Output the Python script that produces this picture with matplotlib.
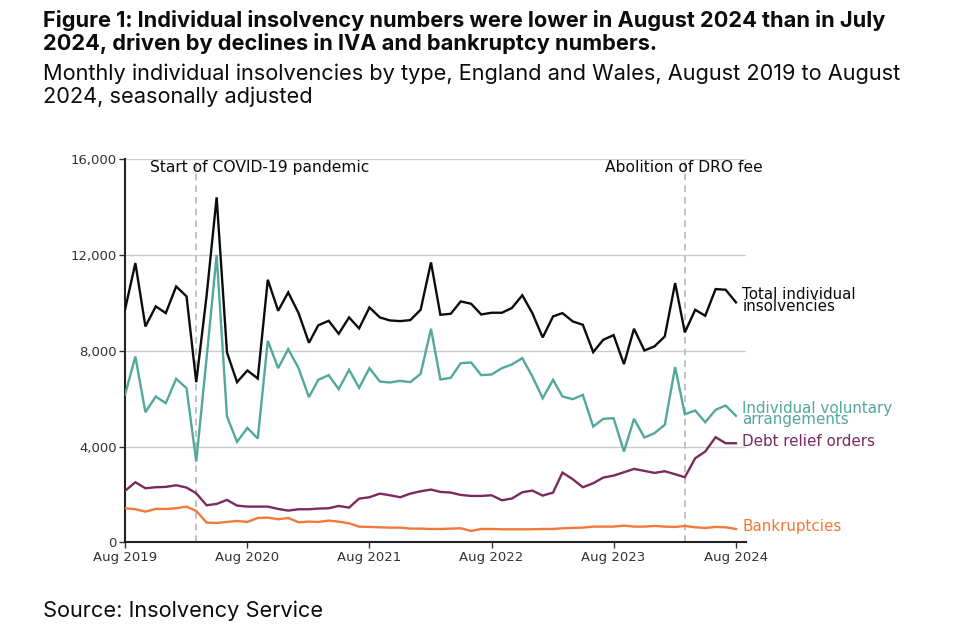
import matplotlib
matplotlib.use('Agg')
import matplotlib.pyplot as plt
import matplotlib.dates as mdates
import matplotlib.transforms as mtransforms
import pandas as pd

# ---------------- data ----------------
months = pd.date_range('2019-08-01', periods=61, freq='MS')

total = [9714, 11665, 9017, 9854, 9575, 10690, 10272, 6690, 10300, 14411,
         7930, 6690, 7178, 6843, 10969, 9672, 10439, 9575, 8335, 9065,
         9254, 8711, 9394, 8934, 9812, 9394, 9268, 9240, 9282, 9714,
         11693, 9505, 9547, 10063, 9965, 9519, 9589, 9589, 9790, 10320,
         9575, 8557, 9436, 9575, 9226, 9087, 7944, 8460, 8655, 7443,
         8920, 8014, 8181, 8599, 10829, 8767, 9714, 9463, 10578, 10551,
         10021]

iva = [6160, 7763, 5436, 6091, 5812, 6829, 6439, 3373, 7700, 12000,
       5254, 4195, 4780, 4334, 8418, 7275, 8070, 7275, 6063, 6787,
       6983, 6397, 7206, 6453, 7275, 6718, 6676, 6746, 6690, 7038,
       8920, 6801, 6871, 7484, 7512, 6983, 7011, 7275, 7430, 7693,
       6927, 6021, 6787, 6091, 5979, 6160, 4836, 5157, 5185, 3791,
       5157, 4376, 4557, 4906, 7317, 5352, 5505, 5017, 5533, 5714,
       5282]

dro = [2146, 2509, 2258, 2300, 2314, 2383, 2286, 2049, 1547, 1603,
       1770, 1533, 1491, 1491, 1491, 1394, 1324, 1380, 1380, 1408,
       1422, 1519, 1449, 1826, 1882, 2035, 1965, 1882, 2035, 2132,
       2202, 2105, 2077, 1979, 1937, 1937, 1965, 1756, 1830, 2091,
       2160, 1951, 2077, 2913, 2634, 2300, 2467, 2704, 2787, 2927,
       3066, 2983, 2899, 2969, 2843, 2718, 3512, 3791, 4390, 4139,
       4139]

bankruptcies = [1422, 1380, 1282, 1394, 1394, 1422, 1491, 1310, 822, 808,
                850, 892, 850, 1017, 1031, 962, 1017, 836, 864, 850,
                906, 864, 794, 655, 641, 627, 613, 613, 571, 571,
                557, 557, 571, 585, 474, 557, 557, 544, 544, 544,
                544, 557, 557, 585, 600, 613, 655, 655, 655, 697,
                655, 655, 683, 655, 641, 683, 627, 600, 641, 627,
                557]

series_names = ['Total individual\ninsolvencies',
                'Individual voluntary\narrangements',
                'Debt relief orders',
                'Bankruptcies']

yticks = [0, 4000, 8000, 12000, 16000]
ytick_labels = ['0', '4,000', '8,000', '12,000', '16,000']
xtick_dates = pd.to_datetime(['2019-08-01', '2020-08-01', '2021-08-01',
                              '2022-08-01', '2023-08-01', '2024-08-01'])
xtick_labels = ['Aug 2019', 'Aug 2020', 'Aug 2021', 'Aug 2022', 'Aug 2023', 'Aug 2024']

event_dates = pd.to_datetime(['2020-03-01', '2024-03-01'])
event_labels = ['Start of COVID-19 pandemic', 'Abolition of DRO fee']
event_text_x = pd.to_datetime(['2019-10-15', '2023-07-05'])

title_lines = ['Figure 1: Individual insolvency numbers were lower in August 2024 than in July',
               '2024, driven by declines in IVA and bankruptcy numbers.']
subtitle_lines = ['Monthly individual insolvencies by type, England and Wales, August 2019 to August',
                  '2024, seasonally adjusted']
source_text = 'Source: Insolvency Service'

# ---------------- style ----------------
colors = ['#0b0c0c', '#52a89b', '#7a2a5e', '#f2793a']
W, H = 960, 640
plt.rcParams['font.family'] = ['DejaVu Sans']

fig = plt.figure(figsize=(9.6, 6.4), dpi=100)
fig.patch.set_facecolor('white')
ax_left, ax_right, ax_top, ax_bottom = 125, 745.7, 159.3, 542.3
ax = fig.add_axes([ax_left / W, 1 - ax_bottom / H, (ax_right - ax_left) / W,
                   (ax_bottom - ax_top) / H])

for vals, c in zip([total, iva, dro, bankruptcies], colors):
    ax.plot(months, vals, color=c, lw=1.7, solid_joinstyle='miter', zorder=3)

ax.set_ylim(0, 16000)
ax.set_xlim(months[0], pd.Timestamp('2024-08-30'))
ax.set_yticks(yticks)
ax.set_yticklabels(ytick_labels)
ax.set_xticks(xtick_dates)
ax.set_xticklabels(xtick_labels)
ax.tick_params(axis='both', labelsize=9.5, colors='#333333', length=4, width=1)
ax.tick_params(axis='x', pad=2)
ax.tick_params(axis='y', pad=2)
for lab in ax.get_xticklabels() + ax.get_yticklabels():
    lab.set_color('#333333')
ax.yaxis.grid(True, color='#cccccc', lw=1)
ax.set_axisbelow(True)
for s in ['top', 'right']:
    ax.spines[s].set_visible(False)
for s in ['left', 'bottom']:
    ax.spines[s].set_color('#222222')
    ax.spines[s].set_linewidth(1.5)

for d in event_dates:
    ax.axvline(d, color='#b8b8b8', lw=1.2, ls=(0, (4, 3)), zorder=2)

renderer = fig.canvas.get_renderer()


def fit(t, target_px):
    w = t.get_window_extent(renderer=renderer).width
    t.set_fontsize(t.get_fontsize() * target_px / w)


trans = mtransforms.blended_transform_factory(ax.transData, ax.transAxes)
ev_objs = []
for xd, lab in zip(event_text_x, event_labels):
    t = ax.text(xd, 0.978, lab, transform=trans, ha='left', va='center',
                fontsize=10, color='#0b0c0c', clip_on=False)
    ev_objs.append(t)
fit(ev_objs[0], 220)
for t in ev_objs[1:]:
    t.set_fontsize(ev_objs[0].get_fontsize())

# right-hand labels
label_objs = []
for name, vals, c in zip(series_names, [total, iva, dro, bankruptcies], colors):
    t = ax.annotate(name, xy=(months[-1], vals[-1]), xytext=(4.5, 1.5),
                    textcoords='offset points', ha='left', va='center',
                    fontsize=10, color=c, linespacing=0.7,
                    annotation_clip=False)
    label_objs.append(t)
fit(label_objs[2], 133)
fs_lab = label_objs[2].get_fontsize()
for t in label_objs:
    t.set_fontsize(fs_lab)

# titles
title_font = ['Inter', 'DejaVu Sans']
x0 = 43 / W
tbase = [26.7, 50.0]
for i, (line, yb) in enumerate(zip(title_lines, tbase)):
    t = fig.text(x0, 1 - yb / H, line, ha='left', va='baseline', fontsize=13,
                 fontweight='bold', family=title_font, color='#0b0c0c')
    if i == 0:
        fit(t, 842)
        fs_title = t.get_fontsize()
    else:
        t.set_fontsize(fs_title)

sbase = [80.0, 102.7]
for i, (line, yb) in enumerate(zip(subtitle_lines, sbase)):
    t = fig.text(x0, 1 - yb / H, line, ha='left', va='baseline', fontsize=14,
                 family=title_font, color='#0b0c0c')
    if i == 0:
        fit(t, 861)
        fs_sub = t.get_fontsize()
    else:
        t.set_fontsize(fs_sub)

t = fig.text(x0, 1 - 617 / H, source_text, ha='left', va='baseline',
             fontsize=fs_sub, family=title_font, color='#0b0c0c')

fig.savefig('out.png', dpi=100, facecolor='white')
